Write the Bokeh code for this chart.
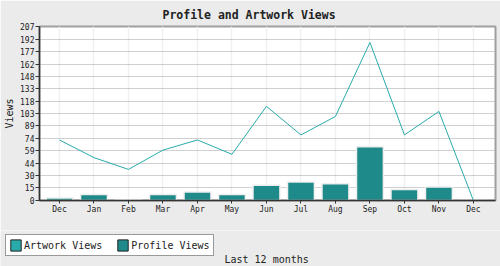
from bokeh.plotting import figure
from bokeh.models import (ColumnDataSource, Range1d, FixedTicker, Label, Legend, LegendItem)
from bokeh.layouts import column
from bokeh.embed import file_html
from bokeh.resources import INLINE

# ---- data ----
months = ["Dec", "Jan", "Feb", "Mar", "Apr", "May", "Jun", "Jul", "Aug", "Sep", "Oct", "Nov", "Dec"]
artwork_views = [72, 51, 37, 60, 72, 55, 112, 78, 100, 188, 78, 106, 0]
profile_views = [3, 7, 1, 7, 10, 7, 18, 22, 20, 64, 13, 16, 0]
y_ticks = [0, 15, 30, 44, 59, 74, 89, 103, 118, 133, 148, 162, 177, 192, 207]

title_text = "Profile and Artwork Views"
y_label = "Views"
x_label = "Last 12 months"
series_names = ["Artwork Views", "Profile Views"]

FONT = "DejaVu Sans Mono"
BAR_COLOR = "#1e8a8a"
LINE_COLOR = "#2aabab"
BG = "#ebebeb"
TXT = "#222222"

idx = list(range(len(months)))
src = ColumnDataSource(dict(x=idx, art=artwork_views, prof=profile_views))

# ---------------- main chart ----------------
p = figure(width=500, height=230, output_backend="svg", toolbar_location=None,
           x_range=Range1d(-0.58, 12.64), y_range=Range1d(0, 207),
           min_border_left=39, min_border_right=5, min_border_top=24, min_border_bottom=30)
p.frame_align = False
p.background_fill_color = "white"
p.border_fill_color = BG
p.outline_line_color = "#a0a0a0"
p.outline_line_width = 2

p.title.text = title_text
p.title.text_font = FONT
p.title.text_font_size = "11.5px"
p.title.text_font_style = "bold"
p.title.text_color = TXT
p.title.align = "left"
p.title.offset = 123
p.title.standoff = 10

# axes
p.xaxis.ticker = FixedTicker(ticks=idx)
p.xaxis.major_label_overrides = {i: m for i, m in zip(idx, months)}
p.yaxis.ticker = FixedTicker(ticks=y_ticks)
for ax in (p.xaxis[0], p.yaxis[0]):
    ax.axis_line_color = "#333333"
    ax.axis_line_width = 1.5
    ax.major_tick_line_color = "#333333"
    ax.major_tick_in = 0
    ax.minor_tick_line_color = None
    ax.major_label_text_font = FONT
    ax.major_label_text_font_size = "8px"
    ax.major_label_text_color = TXT
p.yaxis.major_tick_out = 4
p.yaxis.major_label_standoff = 1
p.xaxis.major_tick_out = 3
p.xaxis.major_label_standoff = 1
p.yaxis.axis_label = y_label
p.yaxis.axis_label_text_font = FONT
p.yaxis.axis_label_text_font_size = "10px"
p.yaxis.axis_label_text_font_style = "normal"
p.yaxis.axis_label_text_color = TXT
p.yaxis.axis_label_standoff = 2

# grids
p.xgrid.grid_line_color = "#f0f0f0"
p.xgrid.grid_line_width = 1.5
p.ygrid.grid_line_color = "#a0a0a0"
p.ygrid.grid_line_dash = "1 1"
p.ygrid.grid_line_width = 1

# glyphs
p.vbar(x="x", top="prof", width=0.78, source=src, fill_color=BAR_COLOR,
       line_color="#eeeeee", line_width=1.5)
p.line(x="x", y="art", source=src, line_color=LINE_COLOR, line_width=1)

# ---------------- legend strip ----------------
q = figure(width=500, height=36, output_backend="svg", toolbar_location=None,
           x_range=Range1d(0, 500), y_range=Range1d(0, 36),
           x_axis_location=None, y_axis_location=None,
           min_border=0, min_border_left=0, min_border_right=0,
           min_border_top=0, min_border_bottom=0)
q.frame_align = False
q.grid.visible = False
q.outline_line_color = None
q.background_fill_color = BG
q.border_fill_color = BG

nan = float("nan")
handle_src = ColumnDataSource(dict(x=[nan], top=[nan]))
h_art = q.vbar(x="x", top="top", width=1, source=handle_src, fill_color=LINE_COLOR,
               line_color="#222222", line_width=1)
h_prof = q.vbar(x="x", top="top", width=1, source=handle_src, fill_color=BAR_COLOR,
                line_color="#222222", line_width=1)
legend = Legend(items=[LegendItem(label=series_names[0], renderers=[h_art]),
                       LegendItem(label=series_names[1], renderers=[h_prof])],
                location=(5, 10), orientation="horizontal",
                label_text_font=FONT, label_text_font_size="10px", label_text_color=TXT,
                glyph_width=13, glyph_height=14, label_height=13, label_standoff=2,
                spacing=14, padding=3, margin=0,
                border_line_color="#333333", border_line_width=1.5,
                background_fill_color="white", background_fill_alpha=1)
q.add_layout(legend, "center")
q.add_layout(Label(x=224, y=7, x_units="screen", y_units="screen", text=x_label,
                   text_font=FONT, text_font_size="10px",
                   text_align="left", text_baseline="alphabetic", text_color=TXT))

layout = column(p, q, spacing=0)
open("out.html", "w").write(file_html(layout, INLINE))
